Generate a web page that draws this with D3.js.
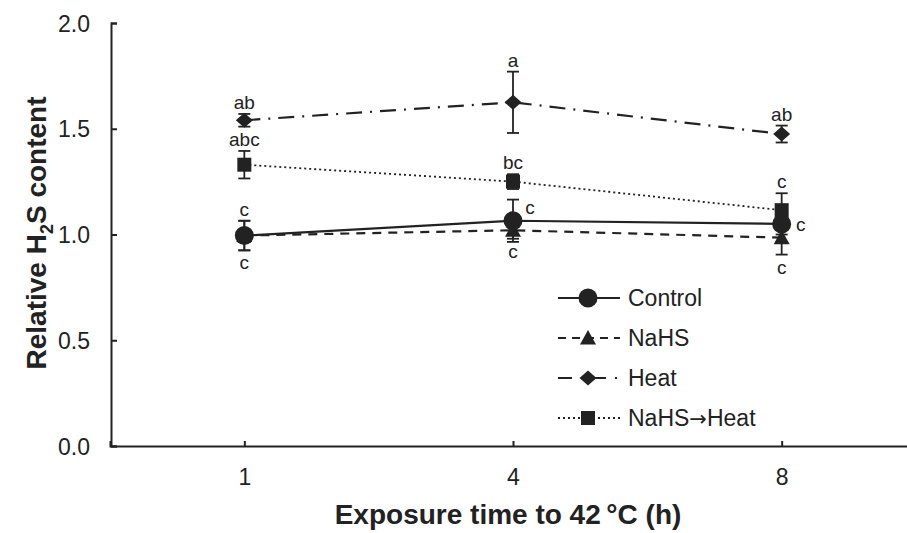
<!DOCTYPE html>
<html>
<head>
<meta charset="utf-8">
<script src="https://cdn.jsdelivr.net/npm/d3@7"></script>
<style>
  body { margin: 0; background: #fff; }
  svg { display: block; font-family: "Liberation Sans", Arial, sans-serif; }
</style>
</head>
<body>
<svg id="chart" width="907" height="533"></svg>
<script>
// ---- data ----
const times = ["1", "4", "8"];
const yTicks = [0, 0.5, 1.0, 1.5, 2.0];

const controlMean = [0.995, 1.065, 1.05];
const controlErr = [0.07, 0.10, 0.05];
const nahsMean = [0.995, 1.02, 0.985];
const nahsErr = [0.07, 0.04, 0.08];
const heatMean = [1.54, 1.625, 1.475];
const heatErr = [0.03, 0.145, 0.04];
const preHeatMean = [1.33, 1.25, 1.115];
const preHeatErr = [0.065, 0.035, 0.08];

const controlLetters = ["c", "c", "c"];
const nahsLetters = ["c", "c", "c"];
const heatLetters = ["ab", "a", "ab"];
const preHeatLetters = ["abc", "bc", "c"];

const legendNames = ["Control", "NaHS", "Heat", "NaHS\u2192Heat"];

// ---- setup ----
const svg = d3.select("#chart");
const x = d3.scalePoint().domain(times).range([110, 916]).padding(0.5);
const y = d3.scaleLinear().domain([0, 2]).range([446, 23]);
const ink = "#222";

const series = [
  { name: legendNames[3], mean: preHeatMean, err: preHeatErr, dash: "2,3", shape: "square" },
  { name: legendNames[2], mean: heatMean, err: heatErr, dash: "16,8,2,8", shape: "diamond" },
  { name: legendNames[1], mean: nahsMean, err: nahsErr, dash: "9,7", shape: "triangle" },
  { name: legendNames[0], mean: controlMean, err: controlErr, dash: null, shape: "circle" }
];

function marker(sel, shape) {
  if (shape === "circle") {
    sel.append("circle").attr("r", 9.5);
  } else if (shape === "square") {
    sel.append("rect").attr("x", -7).attr("y", -7).attr("width", 14).attr("height", 14);
  } else if (shape === "diamond") {
    sel.append("path").attr("d", "M0,-7.5L8.5,0L0,7.5L-8.5,0Z");
  } else {
    sel.append("path").attr("d", "M0,-8L8,6.5L-8,6.5Z");
  }
}

// ---- axes ----
const yAxis = svg.append("g")
  .attr("transform", "translate(111,0)")
  .call(d3.axisRight(y).tickValues(yTicks).tickFormat(d3.format(".1f")).tickSizeOuter(0).tickSize(6));
yAxis.select(".domain").attr("stroke", ink).attr("stroke-width", 2);
yAxis.selectAll(".tick line").attr("stroke", ink).attr("stroke-width", 2);
yAxis.selectAll(".tick text")
  .attr("x", -21).attr("dy", "0.35em").attr("text-anchor", "end")
  .attr("font-size", 23).attr("fill", ink).attr("font-family", "Liberation Sans, Arial, sans-serif");

const xAxis = svg.append("g")
  .attr("transform", "translate(0,446)")
  .call(d3.axisTop(x).tickSizeOuter(0).tickSize(5));
xAxis.select(".domain").attr("stroke", ink).attr("stroke-width", 2);
xAxis.selectAll(".tick line").attr("stroke", ink).attr("stroke-width", 2);
xAxis.selectAll(".tick text")
  .attr("y", 39).attr("dy", null).attr("font-size", 23).attr("fill", ink)
  .attr("font-family", "Liberation Sans, Arial, sans-serif");

// axis titles
const yt = svg.append("text")
  .attr("transform", "translate(46,233) rotate(-90)")
  .attr("text-anchor", "middle")
  .attr("font-size", 28).attr("font-weight", "bold").attr("fill", ink);
yt.append("tspan").text("Relative H");
yt.append("tspan").attr("font-size", 18).attr("dy", 7).text("2");
yt.append("tspan").attr("dy", -7).text("S content");

svg.append("text")
  .attr("x", 508).attr("y", 524)
  .attr("text-anchor", "middle")
  .attr("font-size", 28).attr("font-weight", "bold").attr("fill", ink)
  .text("Exposure time to 42\u2009\u00B0C (h)");

// ---- error bars ----
const plot = svg.append("g");
series.forEach(s => {
  const eb = plot.append("g").attr("stroke", ink).attr("stroke-width", 1.8);
  times.forEach((t, i) => {
    const cx = x(t), hi = y(s.mean[i] + s.err[i]), lo = y(s.mean[i] - s.err[i]);
    eb.append("line").attr("x1", cx).attr("x2", cx).attr("y1", hi).attr("y2", lo);
    eb.append("line").attr("x1", cx - 6).attr("x2", cx + 6).attr("y1", hi).attr("y2", hi);
    eb.append("line").attr("x1", cx - 6).attr("x2", cx + 6).attr("y1", lo).attr("y2", lo);
  });
});

// ---- lines ----
const line = d3.line().x((d, i) => x(times[i])).y(d => y(d));
series.forEach(s => {
  plot.append("path")
    .datum(s.mean)
    .attr("d", line)
    .attr("fill", "none")
    .attr("stroke", ink)
    .attr("stroke-width", s.dash === "2,3" ? 1.8 : 2.2)
    .attr("stroke-dasharray", s.dash);
});

// ---- markers ----
series.forEach(s => {
  s.mean.forEach((m, i) => {
    const g = plot.append("g")
      .attr("transform", `translate(${x(times[i])},${y(m)})`)
      .attr("fill", ink);
    marker(g, s.shape);
  });
});

// ---- significance letters ----
const letterG = svg.append("g")
  .attr("font-size", 19).attr("fill", ink).attr("text-anchor", "middle");
function letters(arr, mean, err, pos) {
  arr.forEach((l, i) => {
    const cx = x(times[i]);
    let tx = cx, ty;
    if (pos[i] === "above") ty = y(mean[i] + err[i]) - 5;
    else if (pos[i] === "below") ty = y(mean[i] - err[i]) + 19;
    else if (pos[i] === "rightHigh") { tx = cx + 17; ty = y(mean[i]) - 7; }
    else { tx = cx + 19; ty = y(mean[i]) + 7; }
    letterG.append("text").attr("x", tx).attr("y", ty).text(l);
  });
}
letters(heatLetters, heatMean, heatErr, ["above", "above", "above"]);
letters(preHeatLetters, preHeatMean, preHeatErr, ["above", "above", "above"]);
letters(controlLetters, controlMean, controlErr, ["above", "rightHigh", "right"]);
letters(nahsLetters, nahsMean, nahsErr, ["below", "below", "below"]);

// ---- legend ----
const legend = svg.append("g").attr("transform", "translate(558,298)");
series.slice().reverse().forEach((s, i) => {
  const row = legend.append("g").attr("transform", `translate(0,${i * 40})`);
  row.append("line")
    .attr("x1", 0).attr("x2", 62).attr("y1", 0).attr("y2", 0)
    .attr("stroke", ink).attr("stroke-width", s.dash === "2,3" ? 1.8 : 2.2)
    .attr("stroke-dasharray", s.dash === "16,8,2,8" ? "14,9,2,9" : s.dash === "9,7" ? "8,6" : s.dash);
  const m = row.append("g").attr("transform", "translate(30,0)").attr("fill", ink);
  marker(m, s.shape);
  const t = row.append("text")
    .attr("x", 70).attr("y", 8)
    .attr("font-size", 23).attr("fill", ink);
  const parts = s.name.split("\u2192");
  t.append("tspan").text(parts[0]);
  if (parts.length > 1) {
    t.append("tspan").attr("font-family", "DejaVu Sans").attr("font-size", 21).text("\u2192");
    t.append("tspan").text(parts[1]);
  }
});
</script>
</body>
</html>
